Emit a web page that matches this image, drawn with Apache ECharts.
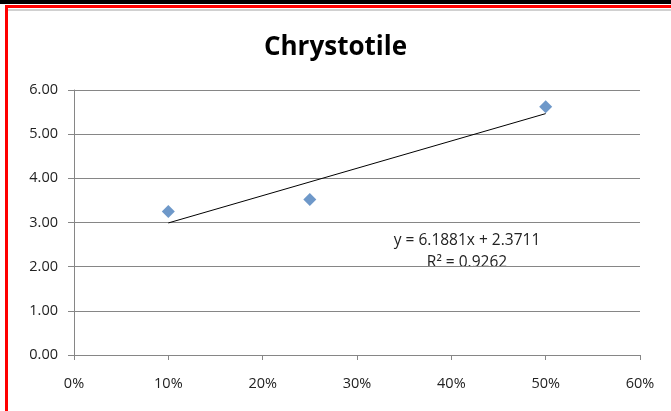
<!DOCTYPE html>
<html><head><meta charset="utf-8">
<script src="https://cdn.jsdelivr.net/npm/echarts@6/dist/echarts.min.js"></script>
<style>html,body{margin:0;padding:0;background:#fff}#c{width:671px;height:411px}</style>
</head><body><div id="c"></div>
<script>
var xValues = [0.10, 0.25, 0.50];
var yValues = [3.25, 3.52, 5.62];
var trendSlope = 6.1881;
var trendIntercept = 2.3711;
var trendR2 = 0.9262;
var titleText = 'Chrystotile';
var xTickLabels = ['0%','10%','20%','30%','40%','50%','60%'];

var chart = echarts.init(document.getElementById('c'));
var xmin = Math.min.apply(null, xValues), xmax = Math.max.apply(null, xValues);
var trend = [[xmin, trendSlope*xmin+trendIntercept],[xmax, trendSlope*xmax+trendIntercept]];
var font = '"Open Sans", "Noto Sans", sans-serif';
chart.setOption({
  backgroundColor:'#fff',
  animation:false,
  title:{text:titleText,left:'center',top:30,textStyle:{fontFamily:font,fontWeight:'bold',fontSize:26,color:'#000'}},
  grid:{left:74,right:31,top:90,bottom:56},
  xAxis:{type:'value',min:0,max:0.6,interval:0.1,
    axisLine:{lineStyle:{color:'#868686'}},
    axisTick:{show:true,length:5,lineStyle:{color:'#868686'}},
    splitLine:{show:false},
    axisLabel:{margin:21,fontFamily:font,fontSize:14.5,color:'#222',formatter:function(v){return xTickLabels[Math.round(v*10)];}}},
  yAxis:{type:'value',min:0,max:6,interval:1,
    axisLine:{show:true,lineStyle:{color:'#868686'}},
    axisTick:{show:true,length:6,lineStyle:{color:'#868686'}},
    splitLine:{show:true,lineStyle:{color:'#868686',width:1}},
    axisLabel:{margin:16,fontFamily:font,fontSize:14.5,color:'#222',formatter:function(v){return v.toFixed(2);}}},
  series:[
    {type:'line',data:trend,symbol:'none',lineStyle:{color:'#000',width:1},z:2},
    {type:'scatter',data:xValues.map(function(x,i){return [x,yValues[i]];}),symbol:'diamond',symbolSize:13,itemStyle:{color:'#4A7EBB'},z:3}
  ],
  graphic:[
    {type:'rect',shape:{x:0,y:0,width:671,height:4},style:{fill:'#000'},silent:true},
    {type:'rect',shape:{x:5,y:5,width:666,height:3},style:{fill:'#ff0000'},silent:true},
    {type:'rect',shape:{x:5,y:5,width:3,height:406},style:{fill:'#ff0000'},silent:true},
    {type:'rect',shape:{x:8,y:9,width:663,height:2},style:{fill:'#d0d0d0'},silent:true},
    {type:'text',x:467,y:241,style:{text:'y = '+trendSlope+'x + '+trendIntercept,textAlign:'center',textVerticalAlign:'middle',font:'15.5px '+font,fill:'#222'}},
    {type:'text',x:467,y:263,style:{text:'R² = '+trendR2,textAlign:'center',textVerticalAlign:'middle',font:'15.5px '+font,fill:'#222'}}
  ]
});
</script></body></html>
